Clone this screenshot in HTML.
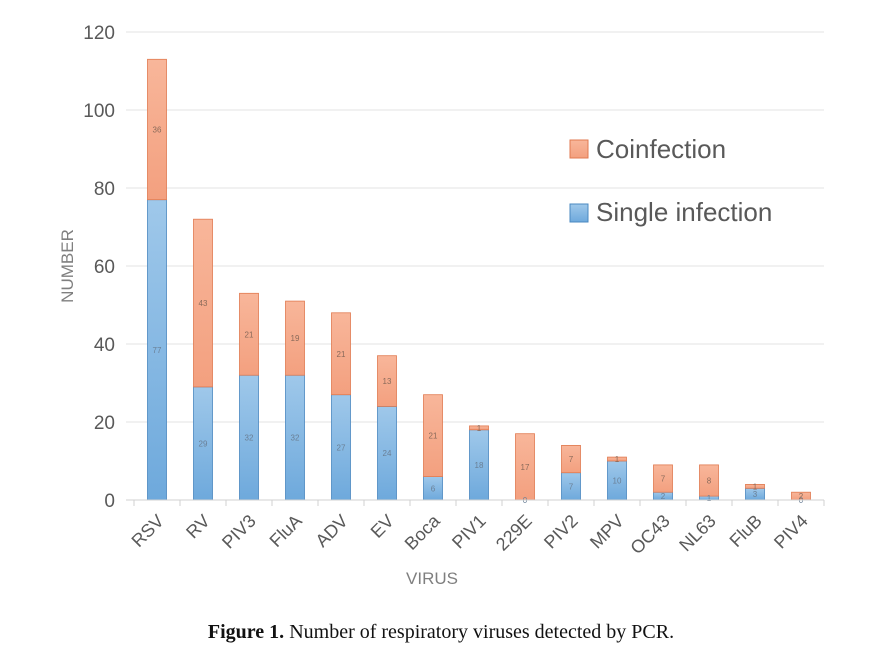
<!DOCTYPE html>
<html><head><meta charset="utf-8"><style>
body{margin:0;background:#fff;}
svg{display:block;font-family:"Liberation Sans",sans-serif;}
</style></head><body>
<svg id="chart" width="880" height="657">
<defs>
<linearGradient id="gb" x1="0" y1="0" x2="0" y2="1"><stop offset="0" stop-color="#9fc8ea"/><stop offset="1" stop-color="#6ea9dc"/></linearGradient>
<linearGradient id="go" x1="0" y1="0" x2="0" y2="1"><stop offset="0" stop-color="#f8b69a"/><stop offset="1" stop-color="#f3a07f"/></linearGradient>
</defs>
<g id="grid"></g><g id="bars"></g><g id="axes"></g>
<g>
<rect x="570" y="140" width="18" height="18" fill="url(#go)" stroke="#e07a50"/>
<text x="596" y="158" font-size="26" fill="#595959">Coinfection</text>
<rect x="570" y="204" width="18" height="18" fill="url(#gb)" stroke="#4a88c0"/>
<text x="596" y="221" font-size="26" fill="#595959">Single infection</text>
</g>
<text x="432" y="584" font-size="17" fill="#7f7f7f" text-anchor="middle">VIRUS</text>
<text transform="translate(73,266) rotate(-90)" font-size="17" fill="#7f7f7f" text-anchor="middle">NUMBER</text>
<text x="441" y="638" font-size="20" fill="#111" text-anchor="middle" font-family="Liberation Serif,serif"><tspan font-weight="bold">Figure 1.</tspan> Number of respiratory viruses detected by PCR.</text>
</svg>
<script>
const categories=["RSV","RV","PIV3","FluA","ADV","EV","Boca","PIV1","229E","PIV2","MPV","OC43","NL63","FluB","PIV4"];
const singleVals=[77,29,32,32,27,24,6,18,0,7,10,2,1,3,0];
const coVals=[36,43,21,19,21,13,21,1,17,7,1,7,8,1,2];
const yTicks=[0,20,40,60,80,100,120];
const NS="http://www.w3.org/2000/svg";
const x0=134,x1=824,y0=500,yTop=32,yMax=120;
const step=(x1-x0)/categories.length,bw=19;
const ys=v=>y0-(v/yMax)*(y0-yTop);
const xc=i=>x0+step*(i+0.5);
function mk(t,a,p){const e=document.createElementNS(NS,t);for(const k in a)e.setAttribute(k,a[k]);p.appendChild(e);return e;}
const grid=document.getElementById('grid'),bars=document.getElementById('bars'),axes=document.getElementById('axes');
yTicks.forEach(t=>{
 if(t>0){const l=mk('line',{x1:x0-8,x2:x1,y1:ys(t),y2:ys(t),stroke:'#e3e3e3'},grid);
 
 }
 const tx=mk('text',{x:115,y:ys(t)+7,'font-size':19,fill:'#595959','text-anchor':'end'},axes);tx.textContent=t;
 
 
});
const base=mk('line',{x1:x0-8,x2:x1,y1:y0,y2:y0,stroke:'#d0d0d0'},axes);


for(let i=0;i<=categories.length;i++){mk('line',{x1:x0+step*i,x2:x0+step*i,y1:y0,y2:y0+6,stroke:'#d0d0d0'},axes);}
categories.forEach((c,i)=>{
 const cx=xc(i),s=singleVals[i],o=coVals[i];
 const b1=mk('rect',{x:cx-bw/2,y:ys(s),width:bw,height:y0-ys(s),fill:'url(#gb)',stroke:'#4a88c0','stroke-width':0.8},bars);
 
 
 const b2=mk('rect',{x:cx-bw/2,y:ys(s+o),width:bw,height:ys(s)-ys(s+o),fill:'url(#go)',stroke:'#e07a50','stroke-width':0.8},bars);
 
 
 const l1=mk('text',{x:cx,y:(ys(s)+y0)/2+3,'font-size':8,fill:'#6a7f95','text-anchor':'middle'},bars);l1.textContent=s;
 
 
 const l2=mk('text',{x:cx,y:(ys(s)+ys(s+o))/2+3,'font-size':8,fill:'#8a6a5a','text-anchor':'middle'},bars);l2.textContent=o;
 
 
 const tl=mk('text',{x:cx+8,y:y0+22,'font-size':18,fill:'#595959','text-anchor':'end',transform:`rotate(-45 ${cx+8} ${y0+22})`},axes);tl.textContent=c;
 
 
});
</script>
</body></html>
